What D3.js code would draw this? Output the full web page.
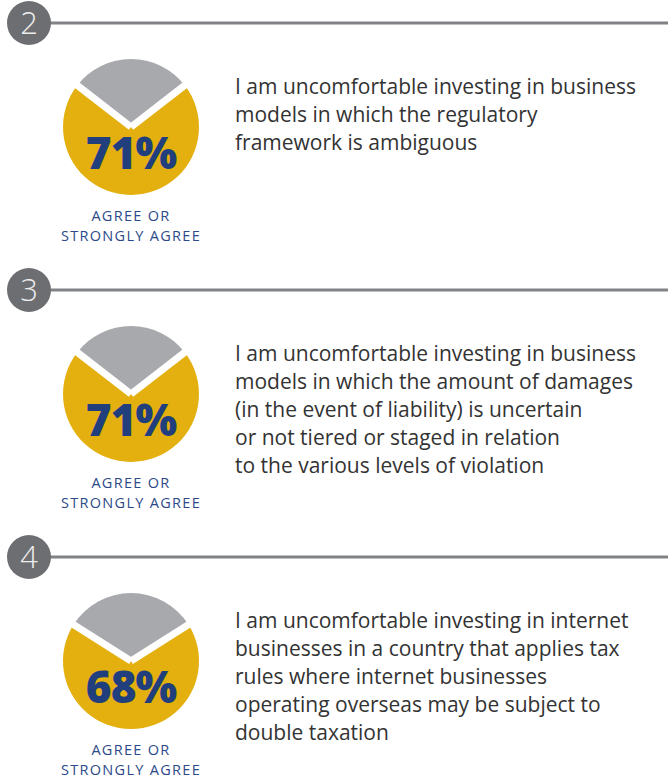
<!DOCTYPE html>
<html>
<head>
<meta charset="utf-8">
<script src="https://cdn.jsdelivr.net/npm/d3@7"></script>
<style>
  html, body { margin: 0; padding: 0; background: #ffffff; }
  svg { display: block; }
</style>
</head>
<body>
<div id="chart"></div>
<script>
// Survey statements, their question numbers and the share who agree
const questionNumbers = ["2", "3", "4"];
const agreeShares = [71, 71, 68];
const statements = [
  ["I am uncomfortable investing in business",
   "models in which the regulatory",
   "framework is ambiguous"],
  ["I am uncomfortable investing in business",
   "models in which the amount of damages",
   "(in the event of liability) is uncertain",
   "or not tiered or staged in relation",
   "to the various levels of violation"],
  ["I am uncomfortable investing in internet",
   "businesses in a country that applies tax",
   "rules where internet businesses",
   "operating overseas may be subject to",
   "double taxation"]
];
const agreeLabel = ["AGREE OR", "STRONGLY AGREE"];
const sliceNames = ["other", "agree"];

const width = 670, height = 778;
const colors = {
  agree: "#e4b00f",
  other: "#a7a9ac",
  badge: "#6d6e71",
  rule: "#808285",
  navy: "#213f7c",
  label: "#2c4a89",
  body: "#333333"
};

const svg = d3.select("#chart").append("svg")
  .attr("width", width).attr("height", height);

// vertical position of each section's header rule
const sectionY = d3.scalePoint()
  .domain(questionNumbers)
  .range([23, 557]);

const pieR = 68;
const pieCx = 131;
const arc = d3.arc().innerRadius(0).outerRadius(pieR);

questionNumbers.forEach((num, i) => {
  const y0 = sectionY(num);
  const g = svg.append("g").attr("transform", `translate(0,${y0})`);

  // header rule and numbered badge
  g.append("line")
    .attr("x1", 45).attr("x2", 668)
    .attr("y1", 0).attr("y2", 0)
    .attr("stroke", colors.rule).attr("stroke-width", 3);
  g.append("circle")
    .attr("cx", 29).attr("cy", 0).attr("r", 22)
    .attr("fill", colors.badge);
  g.append("text")
    .attr("x", 29).attr("y", 11)
    .attr("text-anchor", "middle")
    .attr("font-family", "'Open Sans', sans-serif")
    .attr("font-weight", 300)
    .attr("font-size", 31)
    .attr("fill", "#ececec")
    .text(num);

  // pie: the non-agree slice sits centred at the top
  const share = agreeShares[i];
  const values = [100 - share, share];
  const half = Math.PI * values[0] / 100;
  const pie = d3.pie().sort(null)
    .startAngle(-half).endAngle(2 * Math.PI - half);
  const arcs = pie(values);

  const pg = g.append("g").attr("transform", `translate(${pieCx},104)`);
  pg.selectAll("path.slice")
    .data(arcs)
    .join("path")
    .attr("class", "slice")
    .attr("d", arc)
    .attr("fill", (d, k) => colors[sliceNames[k]]);

  // white separators along the slice boundaries
  pg.selectAll("line.sep")
    .data(arcs)
    .join("line")
    .attr("class", "sep")
    .attr("x1", 0).attr("y1", 0)
    .attr("x2", d => Math.sin(d.startAngle) * (pieR + 4))
    .attr("y2", d => -Math.cos(d.startAngle) * (pieR + 4))
    .attr("stroke", "#ffffff").attr("stroke-width", 7);

  g.append("text")
    .attr("x", pieCx).attr("y", 146)
    .attr("text-anchor", "middle")
    .attr("font-family", "'Open Sans', sans-serif")
    .attr("font-weight", 800)
    .attr("font-size", 44)
    .attr("letter-spacing", -1)
    .attr("fill", colors.navy)
    .text(share + "%");

  // caption under the pie
  g.append("text")
    .attr("text-anchor", "middle")
    .attr("font-family", "'Open Sans', sans-serif")
    .attr("font-size", 14.5)
    .attr("letter-spacing", 1.3)
    .attr("fill", colors.label)
    .selectAll("tspan")
    .data(agreeLabel)
    .join("tspan")
    .attr("x", pieCx)
    .attr("y", (d, k) => 198 + k * 20)
    .text(d => d);

  // statement text
  g.append("text")
    .attr("font-family", "'Open Sans', sans-serif")
    .attr("font-size", 21)
    .attr("fill", colors.body)
    .selectAll("tspan")
    .data(statements[i])
    .join("tspan")
    .attr("x", 235)
    .attr("y", (d, k) => 71 + k * 28)
    .text(d => d);
});
</script>
</body>
</html>
